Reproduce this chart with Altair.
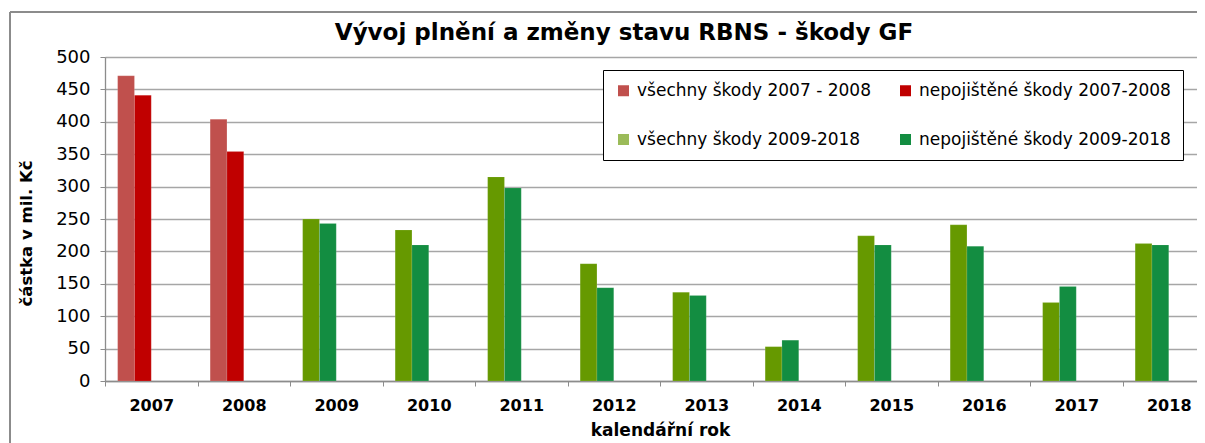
import altair as alt
import pandas as pd

years = ["2007", "2008", "2009", "2010", "2011", "2012",
         "2013", "2014", "2015", "2016", "2017", "2018"]
vsechny = [471, 404, 250, 233, 315, 181, 137, 53, 224, 241, 121, 212]
nepojistene = [441, 354, 243, 210, 298, 144, 132, 63, 210, 208, 146, 210]

series = ["všechny škody 2007 - 2008", "nepojištěné škody 2007-2008",
          "všechny škody 2009-2018", "nepojištěné škody 2009-2018"]
bar_colors = ["#C0504D", "#C00000", "#669900", "#138D41"]
legend_colors = ["#C0504D", "#C00000", "#9BBB59", "#138D41"]

rows = []
for i, y in enumerate(years):
    early = int(y) <= 2008
    s_all = series[0] if early else series[2]
    s_un = series[1] if early else series[3]
    rows.append({"rok": y, "slot": "a", "serie": s_all, "hodnota": vsechny[i],
                 "barva": bar_colors[series.index(s_all)]})
    rows.append({"rok": y, "slot": "b", "serie": s_un, "hodnota": nepojistene[i],
                 "barva": bar_colors[series.index(s_un)]})
df = pd.DataFrame(rows)

FONT = "DejaVu Sans"
GRAY = "#8C8C8C"

x_enc = alt.X(
    "rok:N",
    sort=years,
    scale=alt.Scale(domain=years, range=[0, 1110], paddingInner=0, paddingOuter=0),
    axis=alt.Axis(
        title="kalendářní rok",
        labelAngle=0,
        labelFont=FONT, labelFontSize=16, labelFontWeight="bold", labelColor="#000000",
        titleFont=FONT, titleFontSize=17, titleFontWeight="bold", titleColor="#000000",
        titleX=555, titleAlign="center",
        tickOffset=-46.25, labelOffset=46.25,
        tickSize=5, tickColor=GRAY, domainColor=GRAY, domainWidth=1.3,
        labelPadding=11, titlePadding=9, grid=False,
    ),
)
y_enc = alt.Y(
    "hodnota:Q",
    scale=alt.Scale(domain=[0, 500], nice=False),
    axis=alt.Axis(
        title="částka v mil. Kč",
        values=list(range(0, 501, 50)),
        tickCount=11, labelOverlap=False,
        labelFont=FONT, labelFontSize=18, labelColor="#000000",
        titleFont=FONT, titleFontSize=16.5, titleFontWeight="bold", titleColor="#000000",
        titleAngle=270, titleAlign="center", titleBaseline="middle",
        titleX=-79, titleY=176,
        tickSize=5, tickColor=GRAY, domainColor=GRAY, domainWidth=1.3,
        labelPadding=10,
        grid=True, gridColor="#A6A6A6", gridWidth=1.3,
    ),
)
xo = alt.XOffset(
    "slot:N",
    scale=alt.Scale(domain=["a", "b", "c", "d"], paddingInner=0, paddingOuter=0.753),
)

bars = alt.Chart(df).mark_bar(stroke="#FFFFFF", strokeOpacity=0.25, strokeWidth=0.5).encode(
    x=x_enc, y=y_enc, xOffset=xo,
    color=alt.Color("barva:N", scale=None),
)

legend_layer = alt.Chart(df).mark_square(opacity=0, size=1).encode(
    x=alt.X("rok:N", sort=years), y="hodnota:Q", xOffset=xo,
    fill=alt.Fill(
        "serie:N",
        scale=alt.Scale(domain=series, range=legend_colors),
        legend=alt.Legend(
            title=None, orient="none", legendX=498, legendY=13, direction="horizontal",
            columns=2, symbolType="square", symbolSize=121, symbolOpacity=1,
            symbolStrokeWidth=0,
            labelFont=FONT, labelFontSize=17, labelColor="#000000", labelOffset=5,
            columnPadding=26, rowPadding=31, padding=12,
            strokeColor="#000000", fillColor="#FFFFFF", labelLimit=400,
        ),
    ),
)

frame_left = alt.Chart(df).mark_rule(stroke=GRAY, strokeWidth=1.3).encode(
    x=alt.value(-95), y=alt.value(-45), y2=alt.value(420)
)
frame_top = alt.Chart(df).mark_rule(stroke=GRAY, strokeWidth=1.3).encode(
    x=alt.value(-95), x2=alt.value(1092), y=alt.value(-45)
)

chart = alt.layer(frame_left, frame_top, bars, legend_layer).properties(
    width=1092, height=324,
    autosize=alt.AutoSizeParams(type="none"),
    padding={"left": 97, "top": 49, "right": 0, "bottom": 62},
    title=alt.TitleParams(
        "Vývoj plnění a změny stavu RBNS - škody GF",
        font=FONT, fontSize=23, fontWeight="bold", color="#000000",
        anchor="middle", frame="group", dx=-27, dy=46, offset=12,
    ),
).configure_view(stroke=None).configure(background="#FFFFFF")

chart.save("out.html", embed_options={"renderer": "svg", "actions": False})
